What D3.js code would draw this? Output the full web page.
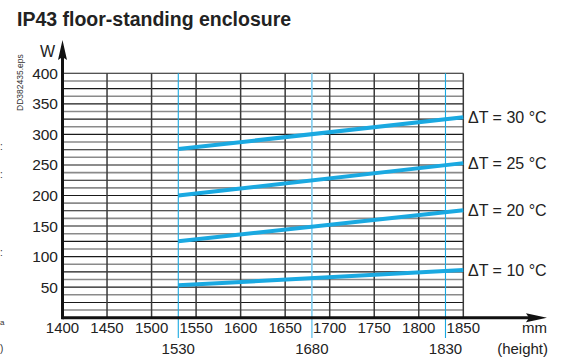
<!DOCTYPE html>
<html><head><meta charset="utf-8">
<script src="https://cdn.jsdelivr.net/npm/d3@7"></script>
<style>body{margin:0;background:#fff}svg{display:block;font-family:"Liberation Sans",Arial,sans-serif}</style>
</head><body><svg id="c" width="563" height="358"></svg>
<script>
const title = "IP43 floor-standing enclosure";
const heights = [1530, 1850];
const seriesNames = ["ΔT = 30 °C", "ΔT = 25 °C", "ΔT = 20 °C", "ΔT = 10 °C"];
const dT30 = [276, 328];
const dT25 = [200, 253];
const dT20 = [125, 176];
const dT10 = [53, 78];
const xTicks = [1400, 1450, 1500, 1550, 1600, 1650, 1700, 1750, 1800, 1850];
const xMarks = [1530, 1680, 1830];
const yTicks = [50, 100, 150, 200, 250, 300, 350, 400];
const series = [dT30, dT25, dT20, dT10];

const svg = d3.select("#c");
const x = d3.scaleLinear().domain([1400, 1850]).range([62.5, 463.3]);
const y = d3.scaleLinear().domain([0, 400]).range([317.7, 73.3]);
const blue = "#1aa9e1";

svg.append("text").attr("x", 17).attr("y", 26).attr("font-size", 19.5).attr("font-weight", "bold").attr("fill", "#222").text(title);
svg.append("text").attr("transform", "translate(23,111) rotate(-90)").attr("font-size", 8.5).attr("fill", "#333").text("DD382435.eps");
// cropped fragments at left edge
[150, 178, 256].forEach(v => svg.append("text").attr("x", 0).attr("y", v).attr("font-size", 10).attr("fill", "#333").text(":"));
svg.append("text").attr("x", 0).attr("y", 325).attr("font-size", 8).attr("fill", "#333").text("a");
svg.append("text").attr("x", 0).attr("y", 352).attr("font-size", 10).attr("fill", "#333").text(")");

// horizontal grid
const hLines = d3.range(12.5, 400.1, 12.5);
svg.append("g").selectAll("line").data(hLines).join("line")
  .attr("x1", x(1400)).attr("x2", x(1850))
  .attr("y1", d => y(d)).attr("y2", d => y(d))
  .attr("stroke", d => d % 25 === 0 ? "#1a1a1a" : "#8a8a8a")
  .attr("stroke-width", d => d % 25 === 0 ? 1.1 : 1.6);

// vertical grid
svg.append("g").selectAll("line").data(xTicks.slice(1)).join("line")
  .attr("x1", d => x(d)).attr("x2", d => x(d))
  .attr("y1", y(400)).attr("y2", y(0))
  .attr("stroke", "#3a3a3a").attr("stroke-width", 1.5);

// blue marker lines
svg.append("g").selectAll("line").data(xMarks).join("line")
  .attr("x1", d => x(d)).attr("x2", d => x(d))
  .attr("y1", y(400)).attr("y2", 338)
  .attr("stroke", (d, i) => i === 1 ? "#7fcdf0" : blue).attr("stroke-width", (d, i) => i === 1 ? 1.6 : 1.1);

// data lines
const line = d3.line().x((d, i) => x(heights[i])).y(d => y(d));
svg.append("g").selectAll("path").data(series).join("path")
  .attr("d", d => line(d)).attr("fill", "none").attr("stroke", blue).attr("stroke-width", 4);

// series labels
svg.append("g").selectAll("text").data(series).join("text")
  .attr("x", 468).attr("y", d => y(d[1]) + 5.5).attr("font-size", 16).attr("fill", "#222")
  .text((d, i) => seriesNames[i]);

// axes
svg.append("line").attr("x1", x(1400)).attr("x2", 532).attr("y1", y(0)).attr("y2", y(0)).attr("stroke", "#111").attr("stroke-width", 3);
svg.append("path").attr("d", `M547,${y(0)} L526,${y(0)-4.5} L529,${y(0)} L526,${y(0)+4.5} Z`).attr("fill", "#111");
svg.append("line").attr("x1", x(1400)).attr("x2", x(1400)).attr("y1", y(0) + 1.5).attr("y2", 55).attr("stroke", "#111").attr("stroke-width", 3);
svg.append("path").attr("d", `M${x(1400)},40 L${x(1400)-4.5},60 L${x(1400)},57 L${x(1400)+4.5},60 Z`).attr("fill", "#111");
svg.append("text").attr("x", 40).attr("y", 57).attr("font-size", 16).attr("fill", "#222").text("W");

// tick labels
svg.append("g").selectAll("text").data(yTicks).join("text")
  .attr("x", 58).attr("y", d => y(d) + 5.5).attr("text-anchor", "end").attr("font-size", 15.5).attr("fill", "#222").text(d => d);
svg.append("g").selectAll("text").data(xTicks).join("text")
  .attr("x", d => x(d)).attr("y", 333).attr("text-anchor", "middle").attr("font-size", 15).attr("fill", "#222").text(d => d);
svg.append("g").selectAll("text").data(xMarks).join("text")
  .attr("x", d => x(d)).attr("y", 354).attr("text-anchor", "middle").attr("font-size", 15).attr("fill", "#222").text(d => d);
svg.append("text").attr("x", 547).attr("y", 333).attr("text-anchor", "end").attr("font-size", 15).attr("fill", "#222").text("mm");
svg.append("text").attr("x", 548).attr("y", 354).attr("text-anchor", "end").attr("font-size", 15).attr("fill", "#222").text("(height)");
</script></body></html>
